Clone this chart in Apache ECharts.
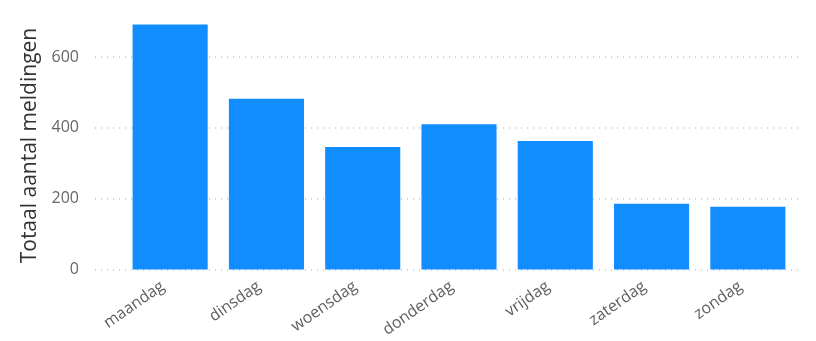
<!DOCTYPE html>
<html><head><meta charset="utf-8">
<script src="https://cdn.jsdelivr.net/npm/echarts@6/dist/echarts.min.js"></script>
<style>html,body{margin:0;padding:0;background:#fff}#c{width:816px;height:341px}</style>
</head><body><div id="c"></div>
<script>
const categories = ['maandag','dinsdag','woensdag','donderdag','vrijdag','zaterdag','zondag'];
const values = [692, 482, 346, 410, 363, 186, 177];
const yTicks = [0, 200, 400, 600];
const yName = 'Totaal aantal meldingen';

const font = '"Segoe UI","Open Sans","DejaVu Sans",sans-serif';
const chart = echarts.init(document.getElementById('c'));
const gTop = 21.6, gBottom = 341 - 269.5;
chart.setOption({
  animation: false,
  grid: [
    {left: 95, right: 16, top: gTop, bottom: gBottom},
    {left: 122, right: 20, top: gTop, bottom: gBottom}
  ],
  xAxis: [
    {gridIndex: 0, type: 'value', show: false, min: 0, max: 1},
    {gridIndex: 1, type: 'category', data: categories,
     axisLine: {show: false}, axisTick: {show: false},
     axisLabel: {rotate: 35, color: '#605E5C', fontSize: 16, fontFamily: font, margin: 10, padding: [0, 9, 0, 0]}}
  ],
  yAxis: [
    {gridIndex: 0, type: 'value', min: 0, max: 700, interval: 200,
     name: yName, nameLocation: 'middle', nameGap: 53,
     nameTextStyle: {color: '#333333', fontSize: 21, fontFamily: font, fontWeight: 500},
     axisLine: {show: false}, axisTick: {show: false},
     axisLabel: {color: '#666666', fontSize: 16, fontFamily: font, margin: 16, showMaxLabel: false,
       formatter: v => yTicks.includes(v) ? String(v) : ''},
     splitLine: {show: true, showMaxLine: false, lineStyle: {color: '#C8C6C4', type: [1, 5], width: 1.5}}},
    {gridIndex: 1, type: 'value', min: 0, max: 700, show: false, splitLine: {show: false}}
  ],
  series: [{
    type: 'bar', xAxisIndex: 1, yAxisIndex: 1, data: values,
    barCategoryGap: '22%', itemStyle: {color: '#118DFF'}
  }]
});
</script></body></html>
